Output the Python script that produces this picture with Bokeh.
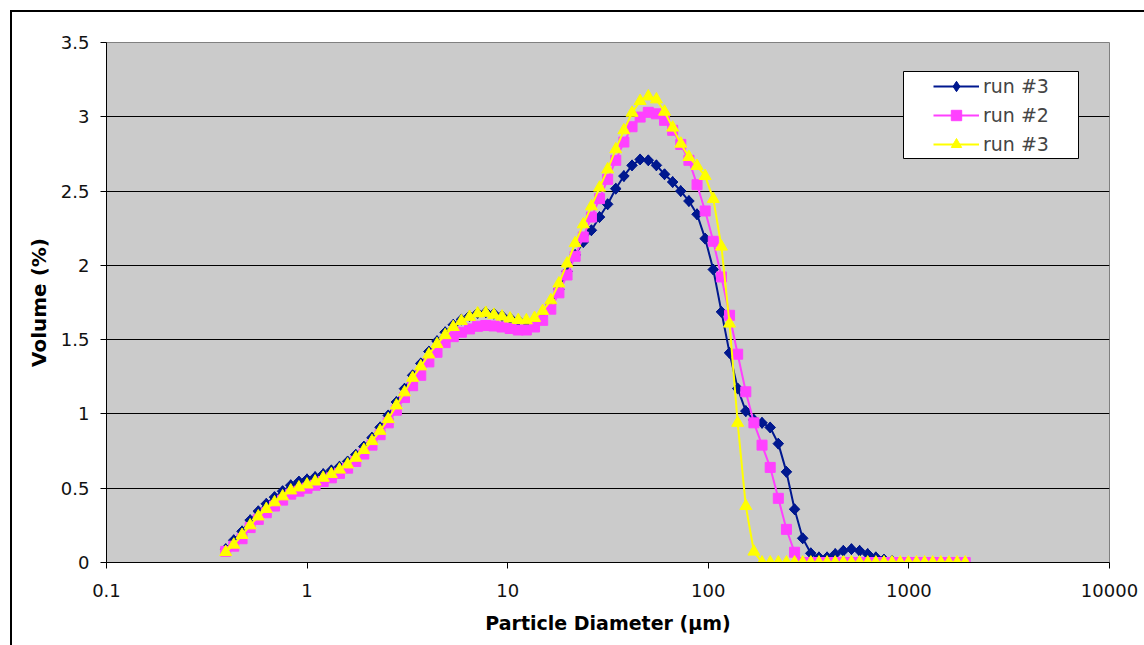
from bokeh.plotting import figure
from bokeh.models import (Range1d, FixedTicker, Legend, LegendItem, BoxAnnotation,
                          CustomJSTickFormatter)
from bokeh.embed import file_html
from bokeh.resources import INLINE

# Particle diameter (um), channel centres
x_um = [0.393, 0.431, 0.474, 0.520, 0.571, 0.626, 0.688, 0.755, 0.829, 0.910,
        0.999, 1.096, 1.203, 1.321, 1.450, 1.592, 1.748, 1.918, 2.106, 2.312,
        2.538, 2.786, 3.059, 3.358, 3.686, 4.046, 4.442, 4.876, 5.353, 5.876,
        6.452, 7.082, 7.774, 8.534, 9.369, 10.28, 11.29, 12.39, 13.61, 14.94,
        16.40, 18.00, 19.76, 21.69, 23.81, 26.14, 28.69, 31.50, 34.57, 37.95,
        41.67, 45.74, 50.22, 55.12, 60.51, 66.43, 72.92, 80.05, 87.87, 96.46,
        105.9, 116.3, 127.6, 140.1, 153.8, 168.8, 185.3, 203.5, 223.4, 245.2,
        269.2, 295.5, 324.4, 356.1, 390.9, 429.1, 471.1, 517.1, 567.7, 623.2,
        684.2, 751.1, 824.5, 905.1, 993.6, 1091, 1197, 1314, 1443, 1584,
        1739, 1909]

run3a = [0.09, 0.15, 0.21, 0.285, 0.345, 0.395, 0.44, 0.48, 0.52, 0.545,
         0.56, 0.575, 0.595, 0.62, 0.645, 0.68, 0.725, 0.78, 0.84, 0.91,
         0.99, 1.08, 1.17, 1.26, 1.34, 1.42, 1.49, 1.55, 1.60, 1.635,
         1.66, 1.68, 1.685, 1.675, 1.66, 1.645, 1.63, 1.62, 1.63, 1.67,
         1.74, 1.84, 1.96, 2.07, 2.157, 2.236, 2.325, 2.411, 2.516, 2.601,
         2.673, 2.713, 2.707, 2.673, 2.613, 2.561, 2.50, 2.433, 2.344, 2.18,
         1.972, 1.687, 1.411, 1.171, 1.019, 0.96, 0.94, 0.909, 0.80, 0.61,
         0.358, 0.163, 0.062, 0.035, 0.035, 0.057, 0.079, 0.09, 0.079, 0.057,
         0.035, 0.02, 0.01, 0, 0, 0, 0, 0, 0, 0,
         0, 0]

run2 = [0.075, 0.11, 0.16, 0.235, 0.29, 0.335, 0.38, 0.42, 0.46, 0.48,
        0.50, 0.52, 0.545, 0.57, 0.60, 0.635, 0.68, 0.73, 0.79, 0.86,
        0.94, 1.025, 1.11, 1.19, 1.26, 1.35, 1.415, 1.48, 1.52, 1.55,
        1.572, 1.59, 1.595, 1.592, 1.585, 1.575, 1.565, 1.565, 1.585, 1.63,
        1.705, 1.815, 1.935, 2.061, 2.191, 2.325, 2.449, 2.579, 2.707, 2.83,
        2.933, 2.998, 3.03, 3.02, 2.976, 2.909, 2.814, 2.707, 2.543, 2.366,
        2.162, 1.922, 1.664, 1.402, 1.149, 0.94, 0.79, 0.64, 0.432, 0.223,
        0.069, 0, 0, 0, 0, 0, 0, 0, 0, 0,
        0, 0, 0, 0, 0, 0, 0, 0, 0, 0,
        0, 0]

run3b = [0.07, 0.12, 0.185, 0.25, 0.31, 0.36, 0.405, 0.445, 0.485, 0.505,
         0.525, 0.545, 0.57, 0.595, 0.625, 0.66, 0.705, 0.757, 0.817, 0.886,
         0.965, 1.057, 1.145, 1.243, 1.32, 1.40, 1.47, 1.53, 1.585, 1.625,
         1.653, 1.676, 1.68, 1.667, 1.655, 1.642, 1.632, 1.63, 1.646, 1.693,
         1.765, 1.878, 2.012, 2.149, 2.276, 2.397, 2.523, 2.646, 2.781, 2.909,
         3.027, 3.106, 3.137, 3.117, 3.034, 2.927, 2.819, 2.729, 2.669, 2.601,
         2.447, 2.126, 1.608, 0.94, 0.38, 0.073, 0, 0, 0, 0,
         0, 0, 0, 0, 0, 0, 0, 0, 0, 0,
         0, 0, 0, 0, 0, 0, 0, 0, 0, 0,
         0, 0]

series_names = ["run #3", "run #2", "run #3"]
x_ticks = [0.1, 1, 10, 100, 1000, 10000]
x_labels = ["0.1", "1", "10", "100", "1000", "10000"]
y_ticks = [0, 0.5, 1, 1.5, 2, 2.5, 3, 3.5]
y_labels = ["0", "0.5", "1", "1.5", "2", "2.5", "3", "3.5"]

FONT = "DejaVu Sans"

p = figure(width=1144, height=645, x_axis_type="log",
           x_range=Range1d(0.1, 10000), y_range=Range1d(0, 3.5),
           output_backend="svg", toolbar_location=None,
           min_border_left=106, min_border_right=35,
           min_border_top=42, min_border_bottom=83)
p.background_fill_color = "#CBCBCB"
p.border_fill_color = "white"
p.border_fill_alpha = 0
p.outline_line_color = "#808080"
p.outline_line_width = 1
# outer chart border: left and top edges only (the others lie outside the view)
p.styles = {
    "background-color": "white",
    "background-image": "linear-gradient(#000, #000), linear-gradient(#000, #000)",
    "background-size": "2px 1000px, 2000px 2px",
    "background-position": "10px 10px, 10px 10px",
    "background-repeat": "no-repeat, no-repeat",
}

p.xgrid.visible = False
p.ygrid.grid_line_color = "black"
p.ygrid.grid_line_width = 1

fmt_code = "const i = tvals.indexOf(tick); return i >= 0 ? tlabs[i] : '';"
p.xaxis.ticker = FixedTicker(ticks=x_ticks)
p.xaxis.formatter = CustomJSTickFormatter(args=dict(tvals=x_ticks, tlabs=x_labels), code=fmt_code)
p.yaxis.ticker = FixedTicker(ticks=y_ticks)
p.yaxis.formatter = CustomJSTickFormatter(args=dict(tvals=y_ticks, tlabs=y_labels), code=fmt_code)

for ax in (p.xaxis[0], p.yaxis[0]):
    ax.axis_line_color = "black"
    ax.axis_line_width = 1
    ax.major_tick_line_color = "black"
    ax.minor_tick_line_color = None
    ax.major_tick_out = 6
    ax.major_tick_in = 0
    ax.major_label_text_font = FONT
    ax.major_label_text_font_size = "18px"
    ax.major_label_text_color = "#111111"
    ax.axis_label_text_font = FONT
    ax.axis_label_text_font_size = "19px"
    ax.axis_label_text_font_style = "bold"
    ax.axis_label_text_color = "black"

p.yaxis.axis_label_text_font_size = "20px"
p.xaxis.axis_label = "Particle Diameter (µm)"
p.yaxis.axis_label = "Volume (%)"
p.xaxis.major_label_standoff = 15
p.xaxis.axis_label_standoff = 12
p.yaxis.major_label_standoff = 11
p.yaxis.axis_label_standoff = 7

colors = ["#00188F", "#FF40FF", "#FFFF00"]

items = []
# run #3 (navy diamonds): rotated square with a diamond on top (diamond used in legend)
l0 = p.line(x_um, run3a, line_color=colors[0], line_width=2)
p.scatter(x_um, run3a, marker="square", size=7.5, angle=0.785398,
          fill_color=colors[0], line_color=colors[0])
d0 = p.scatter(x_um, run3a, marker="diamond", size=11,
               fill_color=colors[0], line_color=colors[0])
items.append(LegendItem(label=series_names[0], renderers=[l0, d0]))

# run #2 (magenta squares)
l1 = p.line(x_um, run2, line_color=colors[1], line_width=2)
s1 = p.scatter(x_um, run2, marker="square", size=10,
               fill_color=colors[1], line_color=colors[1])
items.append(LegendItem(label=series_names[1], renderers=[l1, s1]))

# run #3 (yellow triangles)
l2 = p.line(x_um, run3b, line_color=colors[2], line_width=2)
s2 = p.scatter(x_um, run3b, marker="triangle", size=12,
               fill_color=colors[2], line_color=colors[2])
items.append(LegendItem(label=series_names[2], renderers=[l2, s2]))

box = BoxAnnotation(left=797, right=972, bottom=404, top=491,
                    left_units="screen", right_units="screen",
                    top_units="screen", bottom_units="screen",
                    fill_color="white", fill_alpha=1.0,
                    line_color="black", line_width=1, line_alpha=1.0)
p.add_layout(box)

legend = Legend(items=items, location=(827, 405), padding=0, margin=0,
                spacing=3, glyph_height=26, glyph_width=46, label_standoff=4,
                label_height=26,
                label_text_font=FONT, label_text_font_size="19px",
                background_fill_alpha=0, border_line_color=None)
p.add_layout(legend)

open("out.html", "w").write(file_html(p, INLINE))
